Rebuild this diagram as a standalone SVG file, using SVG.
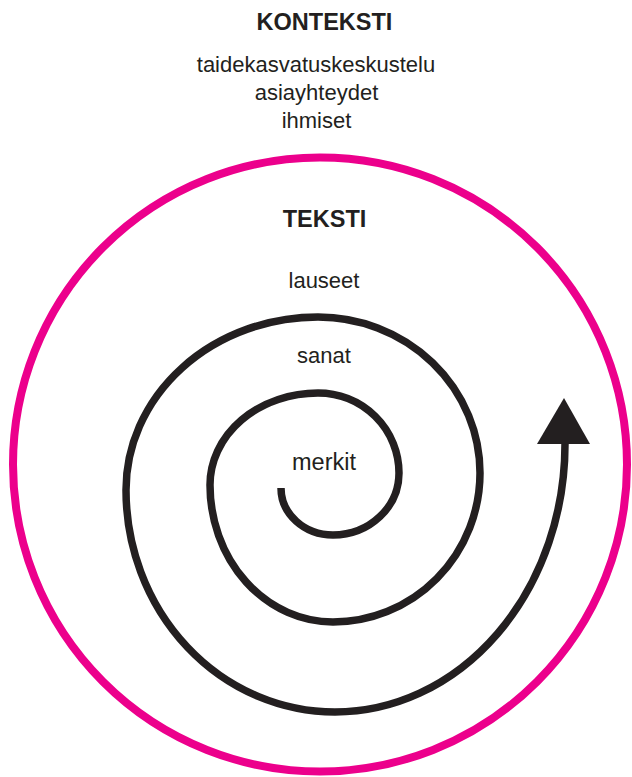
<svg xmlns="http://www.w3.org/2000/svg" width="632" height="777" viewBox="0 0 632 777">
  <style>
    .title { font-family: "Liberation Sans", Arial, sans-serif; font-weight: bold; font-size: 23.5px; fill: #231F20; text-anchor: middle; }
    .lbl { font-family: "Liberation Sans", Arial, sans-serif; font-size: 22px; fill: #231F20; text-anchor: middle; }
    .ring { fill: none; stroke: #EC008C; stroke-width: 8; }
    .spiral { fill: none; stroke: #231F20; stroke-width: 7.5; }
  </style>
  <rect width="632" height="777" fill="#FFFFFF"/>

  <g id="konteksti">
    <circle class="ring" cx="320" cy="464.5" r="307"/>
    <text class="title" x="324.5" y="30">KONTEKSTI</text>
    <text class="lbl" x="316" y="72">taidekasvatuskeskustelu</text>
    <text class="lbl" x="316.5" y="100">asiayhteydet</text>
    <text class="lbl" x="316.5" y="128">ihmiset</text>
  </g>

  <g id="teksti">
    <text class="title" x="324.5" y="227">TEKSTI</text>
  </g>
  <g id="lauseet">
    <text class="lbl" x="324" y="288">lauseet</text>
  </g>
  <g id="sanat">
    <text class="lbl" x="324" y="363">sanat</text>
  </g>
  <g id="merkit">
    <text class="lbl" x="324" y="470" style="font-size:23.5px">merkit</text>
  </g>

  <g id="connectors">
    <path class="spiral" d="M 281 488
      A 52 47 0 0 0 333 535
      A 66 62 0 0 0 399 473
      A 81 80 0 0 0 318 393
      A 108 92 0 0 0 210 485
      A 123 137 0 0 0 333 622
      A 147 149 0 0 0 480 473
      A 162 156 0 0 0 318 317
      A 192 173 0 0 0 126 490
      A 209 222 0 0 0 335 712
      A 230 268 0 0 0 565 444"/>
    <polygon fill="#231F20" points="564,398 590,444 537,444"/>
  </g>
</svg>
